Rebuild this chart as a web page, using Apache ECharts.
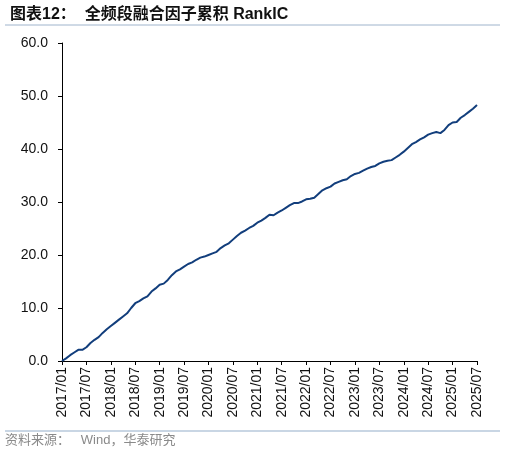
<!DOCTYPE html>
<html>
<head>
<meta charset="utf-8">
<script src="https://cdn.jsdelivr.net/npm/echarts@6/dist/echarts.min.js"></script>
<style>
  html, body { margin: 0; padding: 0; background: #fff; }
  #chart { width: 506px; height: 455px; }
</style>
</head>
<body>
<div id="chart"></div>
<script>
// 月度日期 2017/01 - 2025/07
var startYear = 2017, startMonth = 1, monthCount = 103;
var months = [];
for (var i = 0; i < monthCount; i++) {
    var y = startYear + Math.floor((startMonth - 1 + i) / 12);
    var m = (startMonth - 1 + i) % 12 + 1;
    months.push(y + '/' + (m < 10 ? '0' + m : m));
}

// 累积 RankIC（月末值，从图中读取）
var cumRankIC = [
    0.0, 0.5, 1.1, 1.6, 2.1, 2.1, 2.6, 3.4, 4.0, 4.5,
    5.3, 6.0, 6.6, 7.2, 7.8, 8.4, 9.0, 10.0, 10.9, 11.3,
    11.8, 12.2, 13.1, 13.7, 14.4, 14.6, 15.3, 16.2, 16.9, 17.3,
    17.8, 18.3, 18.6, 19.1, 19.5, 19.7, 20.0, 20.3, 20.6, 21.3,
    21.8, 22.2, 22.9, 23.6, 24.2, 24.6, 25.1, 25.5, 26.1, 26.5,
    27.0, 27.6, 27.5, 28.0, 28.4, 28.9, 29.4, 29.8, 29.8, 30.1,
    30.5, 30.6, 30.8, 31.5, 32.2, 32.6, 32.9, 33.5, 33.8, 34.1,
    34.3, 34.9, 35.3, 35.5, 35.9, 36.3, 36.6, 36.8, 37.3, 37.6,
    37.8, 37.9, 38.4, 38.9, 39.5, 40.2, 40.9, 41.3, 41.8, 42.2,
    42.7, 43.0, 43.2, 43.0, 43.6, 44.5, 45.0, 45.1, 45.9, 46.4,
    47.0, 47.6, 48.3
];

var yMin = 0, yMax = 60, yStep = 10;

var myChart = echarts.init(document.getElementById('chart'));
myChart.setOption({
    animation: false,
    title: {
        text: '图表12：  全频段融合因子累积 RankIC',
        left: 5,
        top: 2,
        textStyle: {
            fontFamily: 'Liberation Sans, Noto Sans CJK SC',
            fontSize: 16,
            fontWeight: 'bold',
            color: '#111'
        }
    },
    graphic: [
        { type: 'line', shape: { x1: 5, y1: 25, x2: 500, y2: 25 },
          style: { stroke: '#9fb4cc', lineWidth: 1 } },
        { type: 'line', shape: { x1: 5, y1: 431, x2: 500, y2: 431 },
          style: { stroke: '#c9d6e4', lineWidth: 2 } },
        { type: 'text', left: 5, top: 434,
          style: { text: '资料来源：   Wind，华泰研究', fill: '#8a8a8a',
                   font: '13px "Liberation Sans", "Noto Sans CJK SC"' } }
    ],
    grid: { left: 62, right: 29, top: 43, bottom: 94, containLabel: false },
    xAxis: {
        type: 'category',
        data: months,
        boundaryGap: false,
        axisLine: { lineStyle: { color: '#000', width: 1 } },
        axisTick: { interval: 5, length: 4, lineStyle: { color: '#000' } },
        axisLabel: {
            interval: 5,
            rotate: 90,
            margin: 6,
            color: '#111',
            fontSize: 14,
            fontFamily: 'Liberation Sans'
        },
        splitLine: { show: false }
    },
    yAxis: {
        type: 'value',
        min: yMin,
        max: yMax,
        interval: yStep,
        axisLine: { show: true, lineStyle: { color: '#000', width: 1 } },
        axisTick: { show: true, length: 4, lineStyle: { color: '#000' } },
        axisLabel: {
            margin: 14,
            color: '#111',
            fontSize: 14,
            fontFamily: 'Liberation Sans',
            formatter: function (v) { return v.toFixed(1); }
        },
        splitLine: { show: false }
    },
    series: [{
        name: '累积RankIC',
        type: 'line',
        data: cumRankIC,
        showSymbol: false,
        lineStyle: { color: '#123e7c', width: 2 }
    }]
});
</script>
</body>
</html>
